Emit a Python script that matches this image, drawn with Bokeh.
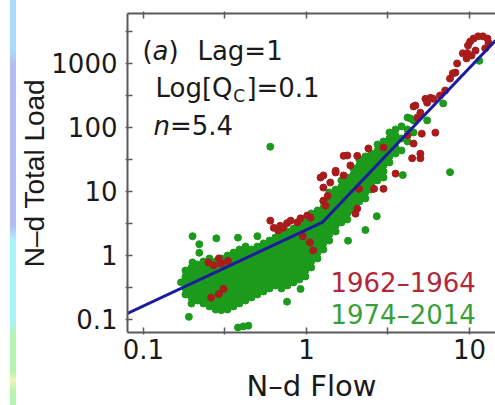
from bokeh.plotting import figure
from bokeh.models import FixedTicker, CustomJSTickFormatter, LogAxis, Label, Div
from bokeh.layouts import row
from bokeh.embed import file_html
from bokeh.resources import INLINE

# ---------------- data ----------------
x_ticks = [0.1, 1, 10]
x_minor = [0.3162, 3.162]
y_ticks = [0.1, 1, 10, 100, 1000]
y_minor = [0.3162, 3.162, 31.62, 316.2, 3162]

# 1974-2014 (green), dense cloud listed column by column
green_x = (
    [0.181] * 5 + [0.197] * 7 + [0.214] * 7 + [0.233] * 8 + [0.254] * 9 +
    [0.277] * 9 + [0.301] * 9 + [0.328] * 10 + [0.357] * 10 + [0.388] * 10 +
    [0.423] * 10 + [0.46] * 9 + [0.5] * 9 + [0.545] * 9 + [0.593] * 9 +
    [0.645] * 9 + [0.703] * 10 + [0.765] * 10 + [0.833] * 10 + [0.906] * 10 +
    [0.986] * 10 + [1.07] * 10 + [1.17] * 9 + [1.27] * 9 + [1.38] * 9 +
    [1.51] * 8 + [1.64] * 8 + [1.78] * 8 + [1.94] * 8 + [2.11] * 8 +
    [2.30] * 8 + [2.50] * 7 + [2.73] * 7 + [2.97] * 7 + [3.23] * 6 +
    [3.52] * 5 + [3.83] * 3 + [4.17] * 3 + [4.54] * 2
)
green_y = [
    0.583, 0.47, 0.379, 0.305, 0.246,
    0.649, 0.523, 0.422, 0.34, 0.274, 0.221, 0.178,
    0.723, 0.583, 0.47, 0.379, 0.305, 0.246, 0.198,
    0.806, 0.649, 0.523, 0.422, 0.34, 0.274, 0.221, 0.178,
    0.898, 0.723, 0.583, 0.47, 0.379, 0.305, 0.246, 0.198, 0.16,
    0.806, 0.649, 0.523, 0.422, 0.34, 0.274, 0.221, 0.178, 0.143,
    0.898, 0.723, 0.583, 0.47, 0.379, 0.305, 0.246, 0.198, 0.16,
    1.0, 0.806, 0.649, 0.523, 0.422, 0.34, 0.274, 0.221, 0.178, 0.143,
    1.11, 0.898, 0.723, 0.583, 0.47, 0.379, 0.305, 0.246, 0.198, 0.16,
    1.24, 1.0, 0.806, 0.649, 0.523, 0.422, 0.34, 0.274, 0.221, 0.178,
    1.38, 1.11, 0.898, 0.723, 0.583, 0.47, 0.379, 0.305, 0.246, 0.198,
    1.24, 1.0, 0.806, 0.649, 0.523, 0.422, 0.34, 0.274, 0.221,
    1.38, 1.11, 0.898, 0.723, 0.583, 0.47, 0.379, 0.305, 0.246,
    1.54, 1.24, 1.0, 0.806, 0.649, 0.523, 0.422, 0.34, 0.274,
    1.71, 1.38, 1.11, 0.898, 0.723, 0.583, 0.47, 0.379, 0.305,
    1.91, 1.54, 1.24, 1.0, 0.806, 0.649, 0.523, 0.422, 0.34,
    2.13, 1.71, 1.38, 1.11, 0.898, 0.723, 0.583, 0.47, 0.379, 0.305,
    2.37, 1.91, 1.54, 1.24, 1.0, 0.806, 0.649, 0.523, 0.422, 0.34,
    2.64, 2.13, 1.71, 1.38, 1.11, 0.898, 0.723, 0.583, 0.47, 0.379,
    2.94, 2.37, 1.91, 1.54, 1.24, 1.0, 0.806, 0.649, 0.523, 0.422,
    3.28, 2.64, 2.13, 1.71, 1.38, 1.11, 0.898, 0.723, 0.583, 0.47,
    4.53, 3.65, 2.94, 2.37, 1.91, 1.54, 1.24, 1.0, 0.806, 0.649,
    5.05, 4.07, 3.28, 2.64, 2.13, 1.71, 1.38, 1.11, 0.898,
    6.98, 5.62, 4.53, 3.65, 2.94, 2.37, 1.91, 1.54, 1.24,
    9.65, 7.78, 6.26, 5.05, 4.07, 3.28, 2.64, 2.13, 1.71,
    10.7, 8.66, 6.98, 5.62, 4.53, 3.65, 2.94, 2.37,
    14.9, 12.0, 9.65, 7.78, 6.26, 5.05, 4.07, 3.28,
    16.5, 13.3, 10.7, 8.66, 6.98, 5.62, 4.53, 3.65,
    22.9, 18.4, 14.9, 12.0, 9.65, 7.78, 6.26, 5.05,
    31.6, 25.5, 20.5, 16.5, 13.3, 10.7, 8.66, 6.98,
    35.2, 28.4, 22.9, 18.4, 14.9, 12.0, 9.65, 7.78,
    39.2, 31.6, 25.5, 20.5, 16.5, 13.3, 10.7,
    54.2, 43.7, 35.2, 28.4, 22.9, 18.4, 14.9,
    60.4, 48.7, 39.2, 31.6, 25.5, 20.5, 16.5,
    83.5, 67.3, 54.2, 43.7, 35.2, 28.4,
    93, 75, 60.4, 48.7, 39.2,
    104, 67.3, 43.7,
    143, 93, 60.4,
    129, 83.5,
]
# 1974-2014 (green) scattered points
green_out_x = [0.60, 0.20, 0.28, 0.38, 0.50, 0.22, 0.22, 0.20, 0.17, 0.19, 0.30, 0.76,
               0.92, 0.38, 0.41, 0.44, 1.8, 2.3, 2.7, 3.9, 7.6, 6.9, 4.35, 5.5, 11.5]
green_out_y = [50, 2.0, 1.85, 1.9, 2.0, 1.5, 1.1, 0.78, 0.38, 0.11, 0.14, 0.19,
               0.30, 0.075, 0.078, 0.08, 1.7, 2.5, 4.1, 18, 20, 237, 138, 129, 1100]

# 1962-1964 (red)
red_x = [0.25, 0.27, 0.29, 0.30, 0.33, 0.26, 0.29, 0.31,
         0.60, 0.63, 0.67, 0.69, 0.72, 0.76, 0.80, 0.88, 0.92, 1.01, 1.06,
         1.1, 1.05, 0.95,
         1.27, 1.31, 1.35, 1.27, 1.40, 1.22, 1.27, 1.51, 1.51, 1.69, 1.86, 1.69, 1.78,
         2.05, 2.4, 2.97, 2.05, 2.0, 2.1, 2.6, 2.97, 3.52, 4.45, 5.0, 5.0, 4.54,
         6.18, 4.17, 5.1, 4.8, 4.54, 5.37, 5.77, 5.0, 4.66, 5.5, 6.0, 6.6, 7.1,
         7.6, 7.9, 8.2, 8.4, 9.1, 9.6, 9.7, 9.8, 10.1, 10.3, 10.6, 10.9, 11.3,
         12.1, 12.9, 13.1, 12.5]
red_y = [0.78, 0.70, 0.90, 0.75, 0.82, 0.22, 0.25, 0.30,
         3.5, 2.7, 2.46, 2.9, 2.7, 3.2, 3.5, 3.3, 3.8, 4.2, 3.9,
         1.2, 1.6, 2.0,
         7.2, 6.0, 8.5, 11.5, 13.8, 16.5, 17.8, 21, 19.8, 17.8, 25.5, 36, 36.5,
         36, 47, 48.7, 5.4, 4.5, 11, 11, 11, 19, 33, 33, 39, 56,
         83, 75, 80, 143, 213, 280, 290, 170, 220, 244, 280, 316, 378,
         580, 700, 720, 1000, 1440, 1200, 1450, 1910, 2200, 1330, 2450, 1590, 2650,
         2650, 2450, 2100, 1720]

# fitted rating curve (break at Log[Qc]=0.1)
fit_x = [0.0798, 1.25, 14.45]
fit_y = [0.124, 3.28, 2280]

# ---------------- figure ----------------
FONT = "DejaVu Sans"
p = figure(width=479, height=405, x_axis_type="log", y_axis_type="log",
           x_range=(0.0798, 14.45), y_range=(0.0626, 6030),
           output_backend="svg", toolbar_location=None,
           min_border_left=111, min_border_right=0, min_border_top=13,
           min_border_bottom=73)
p.outline_line_color = None
p.grid.visible = False
p.background_fill_color = "white"
p.border_fill_color = "white"

fmt = CustomJSTickFormatter(code="return tick < 1 ? tick.toString() : tick.toFixed(0);")
for ax, t, m in ((p.xaxis[0], x_ticks, x_minor), (p.yaxis[0], y_ticks, y_minor)):
    ax.ticker = FixedTicker(ticks=t, minor_ticks=m)
    ax.formatter = fmt
    ax.axis_line_color = "#5a5a5a"
    ax.axis_line_width = 2
    ax.major_tick_line_color = "#5a5a5a"
    ax.minor_tick_line_color = "#5a5a5a"
    ax.major_tick_line_width = 1.5
    ax.minor_tick_line_width = 1.5
    ax.major_tick_in = 5
    ax.major_tick_out = 2
    ax.minor_tick_in = 5
    ax.minor_tick_out = 2
    ax.major_label_text_font = FONT
    ax.major_label_text_font_size = "26px"
    ax.major_label_text_color = "#1a1a1a"
    ax.axis_label_text_font_style = "normal"
    ax.axis_label_text_color = "#1a1a1a"

p.xaxis[0].axis_label = "N–d Flow"
p.xaxis[0].axis_label_text_font = FONT
p.xaxis[0].axis_label_text_font_size = "29px"
p.xaxis[0].major_label_standoff = 4
p.xaxis[0].axis_label_standoff = 7
p.xaxis[0].major_label_text_line_height = 1.0
p.xaxis[0].axis_label_text_line_height = 1.0

p.yaxis[0].axis_label = "N–d Total Load"
p.yaxis[0].axis_label_text_font = "Liberation Sans"
p.yaxis[0].axis_label_text_font_size = "28px"
p.yaxis[0].major_label_standoff = 8
p.yaxis[0].axis_label_standoff = -2

top = LogAxis(ticker=FixedTicker(ticks=x_ticks, minor_ticks=x_minor),
              formatter=CustomJSTickFormatter(code="return '';"))
top.axis_line_color = "#5a5a5a"
top.axis_line_width = 2
top.major_tick_line_color = "#5a5a5a"
top.minor_tick_line_color = "#5a5a5a"
top.major_tick_line_width = 1.5
top.minor_tick_line_width = 1.5
top.major_tick_in = 5
top.major_tick_out = 2
top.minor_tick_in = 5
top.minor_tick_out = 2
top.major_label_text_font_size = "0px"
top.major_label_standoff = 0
p.add_layout(top, "above")

GREEN = "#1c9a1c"
RED = "#a81c1c"
p.scatter(green_x, green_y, size=7, color=GREEN, line_color=GREEN)
p.scatter(green_out_x, green_out_y, size=7, color=GREEN, line_color=GREEN)
p.scatter(red_x, red_y, size=7, color=RED, line_color=RED)
p.line(fit_x, fit_y, line_color="#1c1ca0", line_width=3)

def lab(x, y, text, size="26px", style="normal", color="#1a1a1a"):
    p.add_layout(Label(x=x, y=y, text=text, text_font=FONT, text_font_size=size,
                       text_font_style=style, text_color=color,
                       text_baseline="alphabetic", text_align="left"))

lab(0.0986, 1540, "(")
lab(0.1136, 1540, "a", style="italic")
lab(0.1423, 1540, ")")
lab(0.2143, 1540, "Lag=1")
lab(0.1185, 407, "Log[Q")
lab(0.356, 305, "C", size="17px")
lab(0.428, 407, "]=0.1")
lab(0.1151, 107, "n", style="italic")
lab(0.1455, 107, "=5.4")
lab(1.404, 0.365, "1962–1964", color="#b2283a")
lab(1.404, 0.1155, "1974–2014", color="#3a9f3a")

strip = Div(width=16, height=405, margin=0, styles={
    "background-image": "linear-gradient(to bottom, #a8dcf8 0px, #a8dcf8 50px, #b4bcf6 65px, "
                        "#b4bcf6 225px, #a8f2fa 240px, #a8f2fa 320px, #b4f4b0 335px, "
                        "#b4f4b0 372px, #eef8b4 380px, #b4f4b0 392px, #b4f4b0 405px)",
    "background-size": "6px 405px",
    "background-position": "10px 0px",
    "background-repeat": "no-repeat",
})

layout = row(strip, p, spacing=0)
open("out.html", "w").write(file_html(layout, INLINE))
